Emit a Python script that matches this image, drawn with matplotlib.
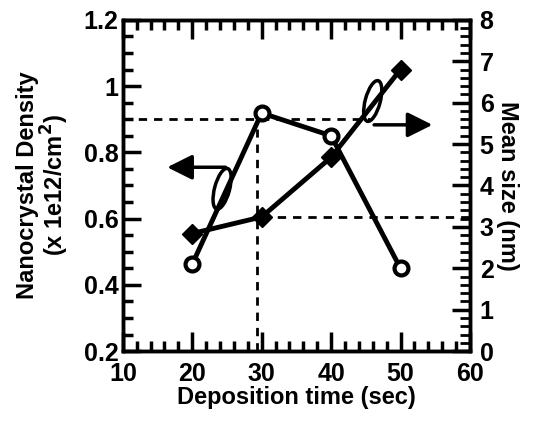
import numpy as np
import matplotlib.pyplot as plt
from matplotlib.patches import Ellipse
from matplotlib.transforms import ScaledTranslation
from matplotlib.ticker import MultipleLocator

plt.rcParams['font.family'] = ['Liberation Sans', 'DejaVu Sans']
plt.rcParams['font.weight'] = 'bold'
plt.rcParams['mathtext.default'] = 'bf'

# Deposition time (sec)
time = [20, 30, 40, 50]
# Nanocrystal density (x 1e12/cm^2), left axis
density = [0.555, 0.605, 0.785, 1.05]
# Mean size (nm), right axis
mean_size = [2.1, 5.75, 5.2, 2.0]

fig = plt.figure(figsize=(5.34, 4.22), dpi=100)
ax = fig.add_axes([0.230, 0.168, 0.650, 0.785])
ax2 = ax.twinx()

ax.plot(time, density, color='black', lw=3.5, marker='D', ms=10,
        mfc='black', mec='black', zorder=3)
ax2.plot(time, mean_size, color='black', lw=3.5, marker='o', ms=10,
         mfc='white', mec='black', mew=3, zorder=3)

ax.set_xlim(10, 60)
ax.set_ylim(0.2, 1.2)
ax2.set_ylim(0, 8)

# guide lines
dash = dict(color='black', lw=2, ls=(0, (3, 2.5)))
ax.plot([10, 45.6], [0.9, 0.9], **dash)
ax.plot([29.3, 29.3], [0.2, 0.87], **dash)
ax.plot([30, 60], [0.605, 0.605], **dash)

# ellipses marking which curve belongs to which axis
def ring(x, y, angle):
    tr = fig.dpi_scale_trans + ScaledTranslation(x, y, ax.transData)
    e = Ellipse((0, 0), 0.15, 0.42, angle=angle, transform=tr,
                fill=False, ec='black', lw=2.5, zorder=4)
    ax.add_patch(e)

ring(24.3, 0.69, -15)
ring(46.0, 0.955, -15)

arrow = dict(arrowstyle='-|>', color='black', lw=2.5, mutation_scale=38)
ax.annotate('', xy=(16.0, 0.755), xytext=(25.2, 0.755), arrowprops=arrow)
ax.annotate('', xy=(55.0, 0.883), xytext=(45.8, 0.883), arrowprops=arrow)

ax.xaxis.set_major_locator(MultipleLocator(10))
ax.xaxis.set_minor_locator(MultipleLocator(2))
ax.yaxis.set_major_locator(MultipleLocator(0.2))
ax.yaxis.set_minor_locator(MultipleLocator(0.05))
ax2.yaxis.set_major_locator(MultipleLocator(1))
ax2.yaxis.set_minor_locator(MultipleLocator(0.2))

ax.yaxis.set_major_formatter(plt.FuncFormatter(lambda v, p: f'{v:g}'))

ax.tick_params(axis='x', which='both', direction='in', top=True,
               labelsize=18, pad=8)
ax.tick_params(axis='x', which='major', length=14, width=2.5)
ax.tick_params(axis='x', which='minor', length=7, width=2.5)
ax.tick_params(axis='y', which='both', direction='in', right=False,
               labelsize=18, pad=3)
ax.tick_params(axis='y', which='major', length=13, width=2.5)
ax.tick_params(axis='y', which='minor', length=7, width=2.5)
ax2.tick_params(axis='y', which='both', direction='in', labelsize=18, pad=7)
ax2.tick_params(axis='y', which='major', length=13, width=2.5)
ax2.tick_params(axis='y', which='minor', length=7, width=2)

for s in ax2.spines.values():
    s.set_linewidth(2.5)
for s in ax.spines.values():
    s.set_linewidth(2.5)

ax.set_xlabel('Deposition time (sec)', fontsize=17, fontweight='bold',
              labelpad=0)
ax.set_ylabel('Nanocrystal Density\n(x 1e12/cm$^2$)', fontsize=17,
              fontweight='bold', labelpad=9, linespacing=1.0)
ax2.set_ylabel('Mean size (nm)', fontsize=17, fontweight='bold',
               rotation=-90, labelpad=18)

fig.savefig('out.png', dpi=100)
